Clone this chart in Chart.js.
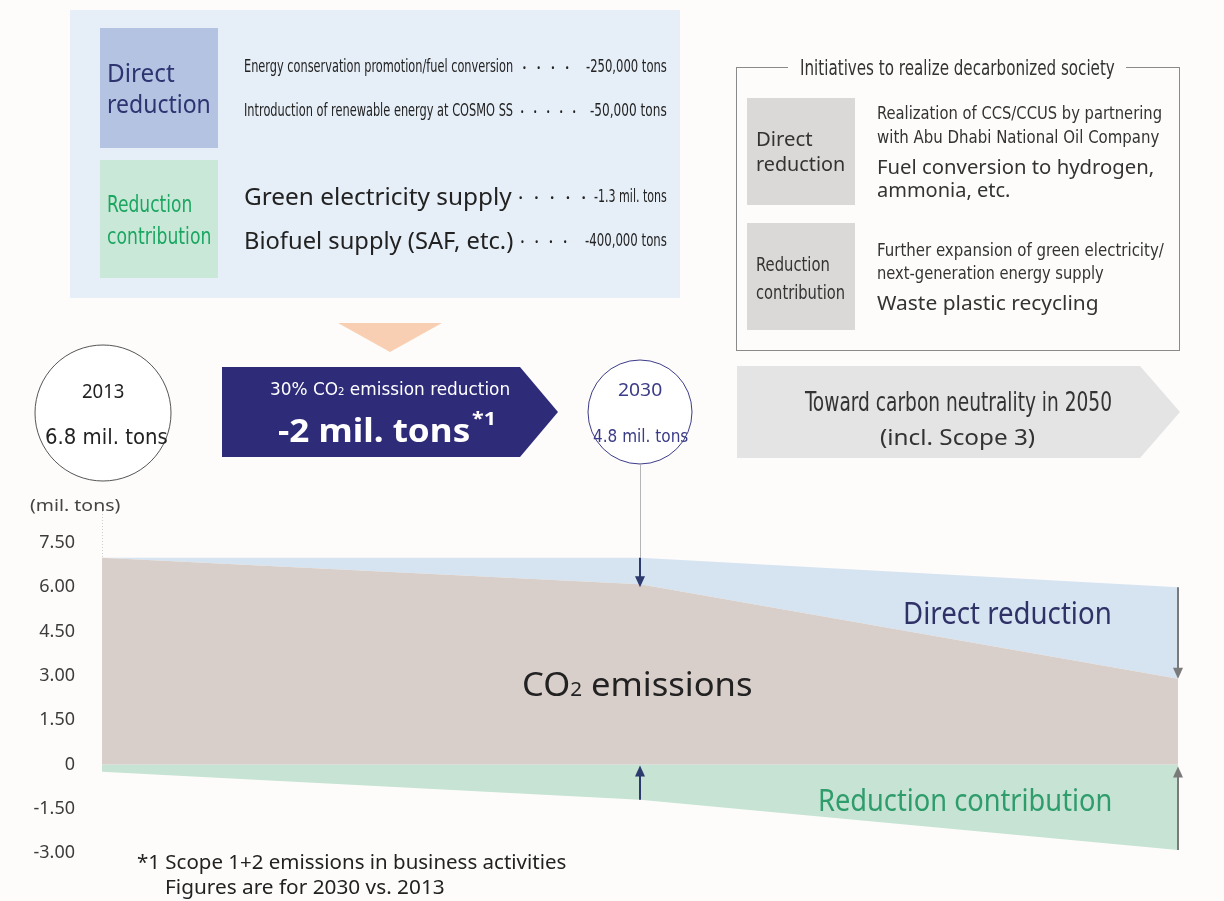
<!DOCTYPE html>
<html>
<head>
<meta charset="utf-8">
<script src="https://cdn.jsdelivr.net/npm/chart.js@4.4.1/dist/chart.umd.min.js"></script>
<style>
  html, body { margin: 0; padding: 0; background: #fdfcfa; }
  #page { position: relative; width: 1224px; height: 901px; overflow: hidden; font-family: "Noto Sans", sans-serif; color: #222; }
  #shapes { position: absolute; left: 0; top: 0; z-index: 1; }
  #chartBox { position: absolute; left: 0; top: 460px; width: 1224px; height: 440px; z-index: 2; }
  .t { position: absolute; white-space: nowrap; line-height: 1; transform-origin: left center; z-index: 3; }
</style>
</head>
<body>
<div id="page">
  <svg id="shapes" width="1224" height="901">
    <!-- panneau haut gauche -->
    <rect x="70" y="10" width="610" height="288" fill="#e6eef7"/>
    <rect x="100" y="28" width="118" height="120" fill="#b5c3e3"/>
    <rect x="100" y="160" width="118" height="118" fill="#c9e8d7"/>
    <polygon points="338,323 442,323 390,352" fill="#f9cfb3"/>
    <!-- cadre droit -->
    <rect x="736.5" y="67.5" width="443" height="283" fill="none" stroke="#8a8a8a" stroke-width="1"/>
    <rect x="788" y="58" width="338" height="20" fill="#fdfcfa"/>
    <rect x="747" y="98" width="108" height="107" fill="#dbd9d7"/>
    <rect x="747" y="223" width="108" height="107" fill="#dbd9d7"/>
    <!-- fleches -->
    <polygon points="222,367 520,367 558,412 520,457 222,457" fill="#2e2b79"/>
    <polygon points="737,366 1140,366 1180,412 1140,458 737,458" fill="#e4e4e4"/>
    <circle cx="103" cy="413" r="68" fill="#ffffff" stroke="#555" stroke-width="1"/>
  </svg>
  <div id="chartBox"><canvas id="chart" width="1224" height="440"></canvas></div>
  <svg width="1224" height="901" style="position:absolute;left:0;top:0;z-index:2">
    <circle cx="640" cy="412" r="52" fill="#ffffff" stroke="#3b3c87" stroke-width="1"/>
  </svg>
</div>

<script>
// données (mil. tons)
const years = ['2013', '2030', '2050'];
const emissions = [7.0, 6.1, 2.9];            // haut de la zone grise
const directReductionTop = [7.0, 7.0, 6.0];   // haut de la zone bleue
const contributionBottom = [-0.25, -1.2, -2.9]; // bas de la zone verte
const yTicks = { min: -3, max: 7.5, step: 1.5 };

const NAVY = '#2d3470';
const GREEN = '#1ba662';
const COND = '"Liberation Sans Narrow", "DejaVu Sans Condensed", "Roboto", sans-serif';
const NORM = '"Noto Sans", "DejaVu Sans", sans-serif';

// textes : [html, x, y (centre), largeur, taille, couleur, condensé?, gras?]
const textes = [
  ['Direct', 107, 72, 68, 25, NAVY, 0],
  ['reduction', 107, 103, 104, 25, NAVY, 0],
  ['Reduction', 107, 204, 85, 23, GREEN, 1],
  ['contribution', 107, 236, 104, 23, GREEN, 1],
  ['Energy conservation promotion/fuel conversion', 244, 66, 269, 18, '#222', 1],
  ['·&nbsp;&nbsp;·&nbsp;&nbsp;·&nbsp;&nbsp;·', 522, 68, 48, 20, '#222', 0],
  ['-250,000 tons', 586, 66, 81, 18, '#222', 1],
  ['Introduction of renewable energy at COSMO SS', 244, 110, 269, 18, '#222', 1],
  ['·&nbsp;&nbsp;·&nbsp;&nbsp;·&nbsp;&nbsp;·&nbsp;&nbsp;·', 520, 112, 56, 20, '#222', 0],
  ['-50,000 tons', 590, 110, 77, 18, '#222', 1],
  ['Green electricity supply', 244, 196, 268, 23, '#222', 0],
  ['·&nbsp;&nbsp;·&nbsp;&nbsp;·&nbsp;&nbsp;·&nbsp;&nbsp;·', 518, 198, 68, 20, '#222', 0],
  ['-1.3 mil. tons', 594, 196, 73, 17, '#222', 1],
  ['Biofuel supply (SAF, etc.)', 244, 240, 269, 23, '#222', 0],
  ['·&nbsp;&nbsp;·&nbsp;&nbsp;·&nbsp;&nbsp;·', 520, 242, 48, 20, '#222', 0],
  ['-400,000 tons', 585, 240, 82, 18, '#222', 1],

  ['Initiatives to realize decarbonized society', 800, 68, 315, 21, '#333', 1],
  ['Direct', 756, 139, 57, 20, '#333', 0],
  ['reduction', 756, 164, 89, 20, '#333', 0],
  ['Reduction', 756, 264, 74, 20, '#333', 1],
  ['contribution', 756, 292, 89, 20, '#333', 1],
  ['Realization of CCS/CCUS by partnering', 877, 113, 285, 18, '#333', 1],
  ['with Abu Dhabi National Oil Company', 877, 137, 282, 18, '#333', 1],
  ['Fuel conversion to hydrogen,', 877, 167, 277, 20, '#333', 0],
  ['ammonia, etc.', 877, 190, 133, 20, '#333', 0],
  ['Further expansion of green electricity/', 877, 250, 287, 18, '#333', 1],
  ['next-generation energy supply', 877, 273, 227, 18, '#333', 1],
  ['Waste plastic recycling', 877, 303, 222, 20, '#333', 0],

  ['2013', 82, 391, 42, 19, '#222', 0],
  ['6.8 mil. tons', 45, 437, 123, 21, '#222', 1],
  ['30% CO<span style="font-size:0.6em">2</span> emission reduction', 270, 389, 240, 18, '#fff', 1],
  ['-2 mil. tons', 278, 430, 192, 32, '#fff', 0, 1],
  ['*1', 472, 418, 24, 18, '#fff', 0, 1],
  ['2030', 618, 389, 44, 18, '#3b3c87', 0],
  ['4.8 mil. tons', 593, 436, 95, 17, '#3b3c87', 1],
  ['Toward carbon neutrality in 2050', 805, 401, 307, 27, '#333', 1],
  ['(incl. Scope 3)', 880, 437, 155, 21, '#333', 0],

  ['(mil. tons)', 30, 505, 90, 16, '#444', 0],
  ['CO<span style="font-size:0.6em">2</span> emissions', 522, 684, 230, 32, '#222', 0],
  ['Direct reduction', 903, 613, 209, 30, '#2f3266', 0],
  ['Reduction contribution', 818, 800, 294, 30, '#2f9c6c', 0],
  ['*1 Scope 1+2 emissions in business activities', 137, 862, 429, 19, '#222', 0],
  ['Figures are for 2030 vs. 2013', 165, 887, 280, 19, '#222', 0]
];

const page = document.getElementById('page');
textes.forEach(([html, x, y, w, size, color, cond, bold]) => {
  const el = document.createElement('div');
  el.className = 't';
  el.innerHTML = html;
  el.style.left = x + 'px';
  el.style.top = y + 'px';
  el.style.fontSize = size + 'px';
  el.style.color = color;
  el.style.fontFamily = cond ? COND : NORM;
  if (cond) el.style.fontStretch = 'condensed';
  if (bold) el.style.fontWeight = '700';
  page.appendChild(el);
  const real = el.offsetWidth || w;
  el.style.transform = `translateY(-50%) scaleX(${w / real})`;
});

function fleche(ctx, x, yDe, yA, couleur) {
  const dir = yA > yDe ? 1 : -1;
  ctx.strokeStyle = couleur;
  ctx.fillStyle = couleur;
  ctx.lineWidth = 2;
  ctx.beginPath();
  ctx.moveTo(x, yDe);
  ctx.lineTo(x, yA - dir * 9);
  ctx.stroke();
  ctx.beginPath();
  ctx.moveTo(x, yA);
  ctx.lineTo(x - 5, yA - dir * 11);
  ctx.lineTo(x + 5, yA - dir * 11);
  ctx.closePath();
  ctx.fill();
}

const annotations = {
  id: 'annotations',
  afterDatasetsDraw(chart) {
    const { ctx, scales } = chart;
    const xs = scales.x, ys = scales.y;
    const px = i => xs.getPixelForValue(i);
    const py = v => ys.getPixelForValue(v);
    ctx.save();
    // trait pointillé au-dessus de 2013
    ctx.strokeStyle = '#cfcfcf';
    ctx.lineWidth = 1;
    ctx.setLineDash([1, 2]);
    ctx.beginPath();
    ctx.moveTo(px(0) + 0.5, py(yTicks.max) - 35);
    ctx.lineTo(px(0) + 0.5, py(directReductionTop[0]));
    ctx.stroke();
    ctx.setLineDash([]);
    // trait depuis le cercle 2030
    ctx.strokeStyle = '#b5b5b5';
    ctx.beginPath();
    ctx.moveTo(px(1) + 0.5, 5);
    ctx.lineTo(px(1) + 0.5, py(directReductionTop[1]));
    ctx.stroke();
    fleche(ctx, px(1), py(directReductionTop[1]), py(emissions[1]) + 3, '#2d3a6e');
    fleche(ctx, px(1), py(contributionBottom[1]), py(0) + 1, '#2d3a6e');
    fleche(ctx, px(2), py(directReductionTop[2]), py(emissions[2]), '#7a7a7a');
    fleche(ctx, px(2), py(contributionBottom[2]), py(0) + 2, '#7a7a7a');
    ctx.restore();
  }
};

new Chart(document.getElementById('chart'), {
  type: 'line',
  data: {
    labels: years,
    datasets: [
      {
        label: 'CO2 emissions',
        data: emissions,
        fill: 'origin',
        backgroundColor: '#d8cfca',
        borderWidth: 0,
        pointRadius: 0,
        tension: 0
      },
      {
        label: 'Direct reduction',
        data: directReductionTop,
        fill: '-1',
        backgroundColor: '#d6e3f1',
        borderWidth: 0,
        pointRadius: 0,
        tension: 0
      },
      {
        label: 'Reduction contribution',
        data: contributionBottom,
        fill: 'origin',
        backgroundColor: '#c6e3d3',
        borderWidth: 0,
        pointRadius: 0,
        tension: 0
      }
    ]
  },
  options: {
    responsive: false,
    animation: false,
    events: [],
    layout: { padding: { top: 83, bottom: 47, left: 0, right: 46 } },
    plugins: { legend: { display: false }, tooltip: { enabled: false } },
    scales: {
      x: { type: 'category', display: false, offset: false },
      y: {
        min: yTicks.min,
        max: yTicks.max,
        afterFit: s => { s.width = 102; },
        border: { display: false },
        grid: { display: false, drawTicks: false },
        ticks: {
          stepSize: yTicks.step,
          padding: 27,
          color: '#3c3c3c',
          font: { family: 'Noto Sans', size: 18 },
          callback: v => v === 0 ? '0' : v.toFixed(2)
        }
      }
    }
  },
  plugins: [annotations]
});
</script>
</body>
</html>
